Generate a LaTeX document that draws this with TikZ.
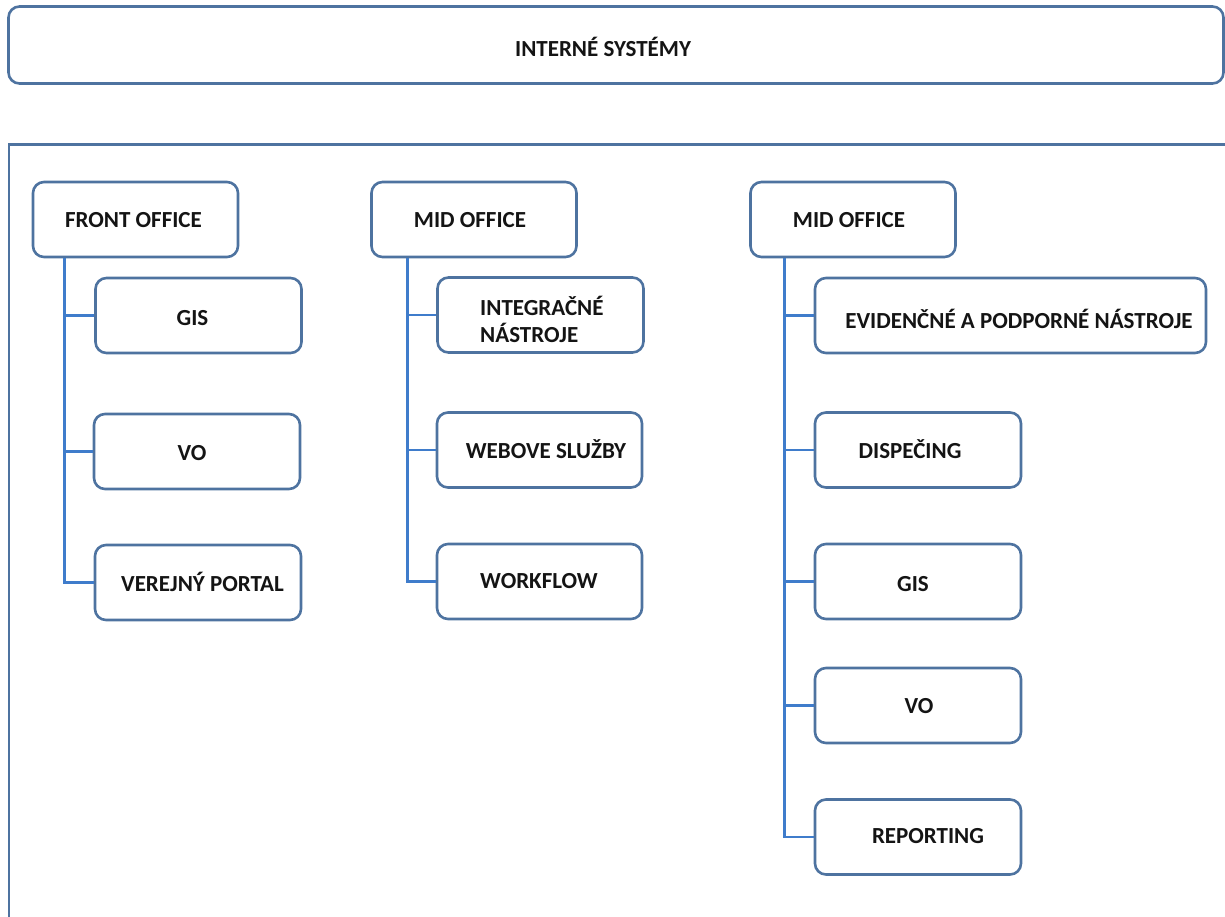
\documentclass[tikz,border=0pt]{standalone}
\usepackage{fontspec}
\setmainfont{Carlito}
\usetikzlibrary{calc}
\definecolor{boxline}{HTML}{4E73A0}
\definecolor{linkline}{HTML}{3F7CCB}
\definecolor{ink}{HTML}{141414}
\tikzset{
  frame/.style={draw=boxline, line width=2.6pt, rounded corners=11pt, fill=white},
  panel/.style={draw=boxline, line width=2.6pt},
  item/.style={frame, minimum width=205pt, minimum height=75pt, inner sep=0pt},
  boxtext/.style={font=\fontsize{23}{27}\selectfont\bfseries, text=ink, inner sep=0pt, anchor=base},
  link/.style={draw=linkline, line width=2.8pt},
}
\begin{document}
\begin{tikzpicture}[x=1pt,y=-1pt]
\clip (0,0) rectangle (1225,916);

% outer frames
\node[frame, minimum width=1215pt, minimum height=77pt, inner sep=0pt] (sys) at (616,45) {};
\node[boxtext] (systxt) at (603,56.5) {INTERNÉ SYSTÉMY};
\node[panel, minimum width=1240pt, minimum height=800pt, inner sep=0pt, anchor=north west] (area) at (7.5,143) {};

% group headers
\node[item] (fo) at (135.5,219.5) {};
\node[item] (mo2) at (474,219.5) {};
\node[item] (mo3) at (853,219.5) {};

% trunk start points
\coordinate (t1) at ($(fo.south west)+(33,0)$);
\coordinate (t2) at ($(mo2.south west)+(37,0)$);
\coordinate (t3) at ($(mo3.south west)+(35,0)$);

% child boxes
\node[item, minimum width=206pt] (gis1) at (198.5,315.5) {};
\node[item, minimum width=206pt] (vo1) at (197,451.5) {};
\node[item, minimum width=206pt] (vp) at (198,582.5) {};

\node[item, minimum width=206pt] (integ) at (540.5,315) {};
\node[item, minimum width=205pt] (web) at (539.5,450) {};
\node[item, minimum width=205pt] (wf) at (539.5,581.5) {};

\node[item, minimum width=391pt] (evid) at (1010.5,315.5) {};
\node[item, minimum width=206pt] (disp) at (918,450) {};
\node[item, minimum width=206pt] (gis3) at (918,581.5) {};
\node[item, minimum width=206pt] (vo3) at (918,705.5) {};
\node[item, minimum width=206pt] (rep) at (918,837) {};

% connectors: one trunk per group, one branch per child
\draw[link] (t1) |- (vp.west);
\draw[link] (t1 |- gis1.west) -- (gis1.west);
\draw[link] (t1 |- vo1.west) -- (vo1.west);

\draw[link] (t2) |- (wf.west);
\draw[link] (t2 |- integ.west) -- (integ.west);
\draw[link] (t2 |- web.west) -- (web.west);

\draw[link] (t3) |- (rep.west);
\draw[link] (t3 |- evid.west) -- (evid.west);
\draw[link] (t3 |- disp.west) -- (disp.west);
\draw[link] (t3 |- gis3.west) -- (gis3.west);
\draw[link] (t3 |- vo3.west) -- (vo3.west);

% labels
\node[boxtext] (fotxt) at (133.5,227.5) {FRONT OFFICE};
\node[boxtext] (mo2txt) at (470,227.5) {MID OFFICE};
\node[boxtext] (mo3txt) at (849,227.5) {MID OFFICE};

\node[boxtext] (gis1txt) at (192.5,325) {GIS};
\node[boxtext] (vo1txt) at (192,460) {VO};
\node[boxtext] (vptxt) at (202.5,591) {VEREJNÝ PORTAL};

\node[boxtext, anchor=base west, align=left] (integtxt) at (480,342) {INTEGRAČNÉ\\NÁSTROJE};
\node[boxtext] (webtxt) at (546,458) {WEBOVE SLUŽBY};
\node[boxtext] (wftxt) at (539,588) {WORKFLOW};

\node[boxtext] (evidtxt) at (1019,328) {EVIDENČNÉ A PODPORNÉ NÁSTROJE};
\node[boxtext] (disptxt) at (910,458) {DISPEČING};
\node[boxtext] (gis3txt) at (913,591.5) {GIS};
\node[boxtext] (vo3txt) at (919,713) {VO};
\node[boxtext] (reptxt) at (928,843) {REPORTING};
\end{tikzpicture}
\end{document}
